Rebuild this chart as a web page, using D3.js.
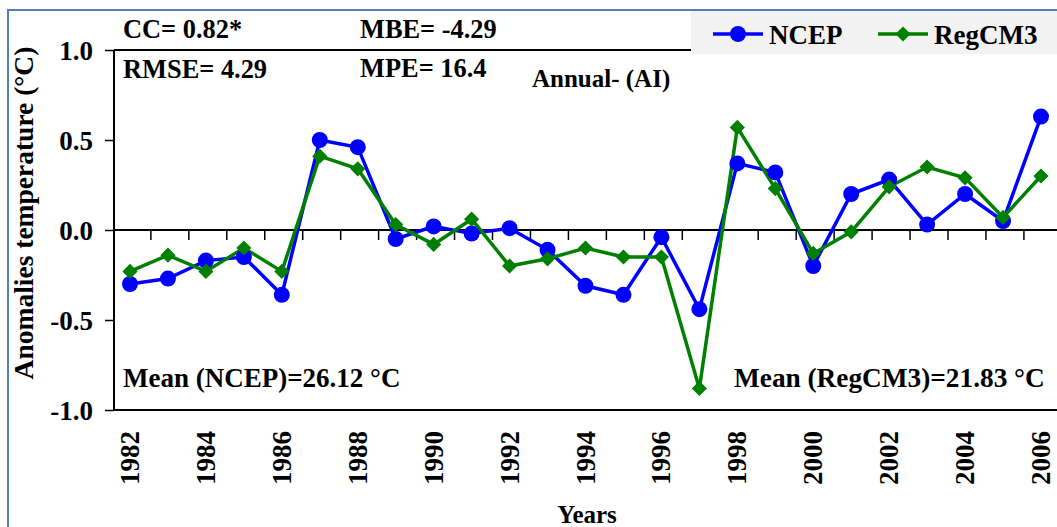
<!DOCTYPE html>
<html><head><meta charset="utf-8">
<script src="https://cdn.jsdelivr.net/npm/d3@7"></script>
<style>
html,body{margin:0;padding:0;background:#fff;}
</style></head>
<body>
<svg id="c" width="1057" height="527" font-family="'Liberation Serif','Times New Roman','DejaVu Serif',serif" font-weight="bold"></svg>
<script>
const years = [1982,1983,1984,1985,1986,1987,1988,1989,1990,1991,1992,1993,1994,1995,1996,1997,1998,1999,2000,2001,2002,2003,2004,2005,2006];
const ncep = [-0.30,-0.27,-0.17,-0.15,-0.36,0.50,0.46,-0.05,0.02,-0.02,0.01,-0.11,-0.31,-0.36,-0.04,-0.44,0.37,0.32,-0.20,0.20,0.28,0.03,0.20,0.05,0.63];
const regcm3 = [-0.23,-0.14,-0.23,-0.10,-0.23,0.41,0.34,0.03,-0.08,0.06,-0.20,-0.16,-0.10,-0.15,-0.15,-0.88,0.57,0.23,-0.13,-0.01,0.24,0.35,0.29,0.07,0.30];
const yTicks = [1.0,0.5,0.0,-0.5,-1.0];
const yTickLabels = ["1.0","0.5","0.0","-0.5","-1.0"];
const xTickLabels = years.filter(y => y % 2 === 0);
const seriesNames = ["NCEP","RegCM3"];
const statsText = ["CC= 0.82*","RMSE= 4.29","MBE= -4.29","MPE= 16.4"];
const panelTitle = "Annual- (AI)";
const meanText = ["Mean (NCEP)=26.12 °C","Mean (RegCM3)=21.83 °C"];

const FONT = "'Liberation Serif','Times New Roman','DejaVu Serif',serif";
const svg = d3.select("#c");
const blue = "#0000ff", green = "#008000";
function txt(sel){ return sel.attr("font-family",FONT).attr("font-weight","bold").attr("fill","#000"); }

// outer frame
svg.append("rect").attr("x",8).attr("y",10).attr("width",1100).attr("height",600)
  .attr("fill","none").attr("stroke","#4f81bd").attr("stroke-width",2);

const x = d3.scalePoint().domain(years).range([130,1041]);
const step = x.step();
const y = d3.scaleLinear().domain([-1,1]).range([410,50]);
const left = 114, right = 1060;

// plot frame lines
svg.append("line").attr("x1",left).attr("x2",left).attr("y1",y(1)).attr("y2",y(-1)).attr("stroke","#000").attr("stroke-width",2);
svg.append("line").attr("x1",left).attr("x2",right).attr("y1",y(1)).attr("y2",y(1)).attr("stroke","#000").attr("stroke-width",2);
svg.append("line").attr("x1",left).attr("x2",right).attr("y1",y(-1)).attr("y2",y(-1)).attr("stroke","#000").attr("stroke-width",2);

// y axis
const yAxis = d3.axisLeft(y).tickValues(yTicks).tickSize(9).tickPadding(12)
  .tickFormat((d,i)=>yTickLabels[i]);
const gy = svg.append("g").attr("transform",`translate(${left},0)`).call(yAxis);
gy.attr("font-family",FONT).attr("font-size",27).attr("font-weight","bold");
gy.select(".domain").remove();
gy.selectAll(".tick line").attr("stroke","#000").attr("stroke-width",1.5);
txt(gy.selectAll(".tick text")).attr("font-size",27).attr("dy","0.35em");

// zero line with category ticks
svg.append("line").attr("x1",left).attr("x2",right).attr("y1",y(0)).attr("y2",y(0)).attr("stroke","#000").attr("stroke-width",2);
svg.append("g").selectAll("line").data(years.slice(0,-1)).join("line")
  .attr("x1",d=>x(d)+step*0.55).attr("x2",d=>x(d)+step*0.55)
  .attr("y1",y(0)).attr("y2",y(0)+10).attr("stroke","#000").attr("stroke-width",1.5);

// x labels
txt(svg.append("g").selectAll("text").data(xTickLabels).join("text"))
  .attr("transform",d=>`translate(${x(d)+9},431) rotate(-90)`)
  .attr("text-anchor","end").attr("font-size",27).text(d=>d);

// axis titles
txt(svg.append("text")).attr("transform","translate(33,213) rotate(-90)").attr("text-anchor","middle")
  .attr("font-size",27.5).text("Anomalies temperature (°C)");
txt(svg.append("text")).attr("x",587).attr("y",523).attr("text-anchor","middle").attr("font-size",25).text("Years");

// series
const line = d3.line().x((d,i)=>x(years[i])).y(d=>y(d));
svg.append("path").datum(ncep).attr("d",line).attr("fill","none").attr("stroke",blue).attr("stroke-width",3.5);
svg.append("path").datum(regcm3).attr("d",line).attr("fill","none").attr("stroke",green).attr("stroke-width",3.5);
svg.append("g").selectAll("circle").data(ncep).join("circle")
  .attr("cx",(d,i)=>x(years[i])).attr("cy",d=>y(d)).attr("r",8).attr("fill",blue);
const diamond = d3.symbol().type(d3.symbolSquare).size(115);
svg.append("g").selectAll("path").data(regcm3).join("path")
  .attr("d",diamond).attr("transform",(d,i)=>`translate(${x(years[i])},${y(d)}) rotate(45)`).attr("fill",green);

// stats text
txt(svg.append("text")).attr("x",123).attr("y",38).attr("font-size",26.4).text(statsText[0]);
txt(svg.append("text")).attr("x",123).attr("y",78).attr("font-size",26.4).text(statsText[1]);
txt(svg.append("text")).attr("x",360).attr("y",38).attr("font-size",26.4).text(statsText[2]);
txt(svg.append("text")).attr("x",360).attr("y",77).attr("font-size",26.4).text(statsText[3]);
txt(svg.append("text")).attr("x",532).attr("y",87).attr("font-size",25).text(panelTitle);
txt(svg.append("text")).attr("x",123).attr("y",387).attr("font-size",27).text(meanText[0]);
txt(svg.append("text")).attr("x",734).attr("y",387).attr("font-size",27.3).text(meanText[1]);

// legend
svg.append("rect").attr("x",691).attr("y",11).attr("width",370).attr("height",43).attr("fill","#f2f2f2");
const lg = svg.append("g");
const legendX = [713, 878];
seriesNames.forEach((name,i)=>{
  const c = i===0?blue:green, lx = legendX[i];
  lg.append("line").attr("x1",lx).attr("x2",lx+50).attr("y1",34).attr("y2",34).attr("stroke",c).attr("stroke-width",3.5);
  if(i===0) lg.append("circle").attr("cx",lx+25).attr("cy",34).attr("r",8).attr("fill",c);
  else lg.append("path").attr("d",diamond).attr("transform",`translate(${lx+25},34) rotate(45)`).attr("fill",c);
  txt(lg.append("text")).attr("x",lx+56).attr("y",44).attr("font-size",27).text(name);
});
</script>
</body></html>
